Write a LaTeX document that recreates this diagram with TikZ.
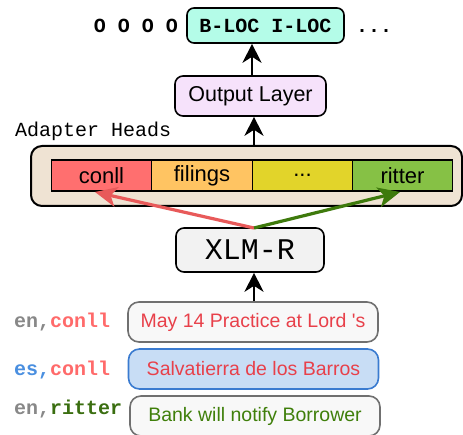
\documentclass[tikz,border=0pt]{standalone}
\usepackage{fontspec}
\setmainfont{Liberation Sans}[Ligatures=TeXOff]
\setmonofont{Liberation Mono}
\usetikzlibrary{arrows.meta,calc}
\definecolor{blocfill}{HTML}{B4FCE8}
\definecolor{outfill}{HTML}{F6E2FB}
\definecolor{adfill}{HTML}{EFE3D3}
\definecolor{cconll}{HTML}{FF6F6F}
\definecolor{cfil}{HTML}{FFC462}
\definecolor{cdots}{HTML}{E2D42A}
\definecolor{critter}{HTML}{86C145}
\definecolor{xlmfill}{HTML}{F2F2F2}
\definecolor{redarr}{HTML}{E85A5A}
\definecolor{greenarr}{HTML}{3E7A0C}
\definecolor{redtxt}{HTML}{E8404A}
\definecolor{greentxt}{HTML}{3F7F0A}
\definecolor{graytxt}{HTML}{888888}
\definecolor{conlltxt}{HTML}{FF6A6A}
\definecolor{bluetxt}{HTML}{4A8FE0}
\definecolor{ritttxt}{HTML}{3A6E10}
\definecolor{sentfill}{HTML}{F8F8F8}
\definecolor{sentdraw}{HTML}{707070}
\definecolor{bluefill}{HTML}{C8DDF5}
\definecolor{bluedraw}{HTML}{3A7BD0}
\tikzset{
  box/.style={draw=black, line width=1.6pt, rounded corners=8pt, inner sep=0pt},
  cell/.style={draw=black, line width=1.4pt, minimum width=100.5pt, minimum height=31pt, inner sep=0pt, font=\fontsize{22}{24}\selectfont},
  sent/.style={draw=sentdraw, fill=sentfill, line width=1.6pt, rounded corners=11pt, minimum width=250pt, minimum height=40pt, inner sep=0pt, font=\fontsize{19.5}{21}\selectfont},
  lab/.style={anchor=west, inner sep=0pt, font=\ttfamily\bfseries\fontsize{20}{22}\selectfont},
  toptxt/.style={inner sep=0pt, font=\ttfamily\bfseries\fontsize{20}{22}\selectfont},
  arr/.style={line width=2pt, -{Stealth[length=19pt,width=19pt,inset=6pt]}},
  carr/.style={line width=3.2pt, -{Stealth[length=22pt,width=20pt,inset=6pt]}},
}
\begin{document}
\begin{tikzpicture}[x=1pt,y=1pt]
\useasboundingbox (0,0) rectangle (463,435);
\begin{scope}
\clip (0,0) rectangle (463,435);
% top output
\node[box, rounded corners=7pt, fill=blocfill, minimum width=157pt, minimum height=35pt] (bloc) at (265.5,409.5) {};
\node[toptxt, anchor=base] (bltxt) at (265.5,402) {B-LOC I-LOC};
\node[toptxt, anchor=base east] (os) at (178,402) {O O O O};
\node[toptxt, anchor=base west] (dots) at (356,402) {...};
% output layer
\node[box, fill=outfill, minimum width=151pt, minimum height=40pt, font=\fontsize{21.5}{23}\selectfont] (out) at (250.5,339) {Output Layer};
% adapter heads
\node[anchor=west, inner sep=0pt, font=\ttfamily\fontsize{20}{22}\selectfont] (adlab) at (15,304) {Adapter Heads};
\node[box, rounded corners=11pt, fill=adfill, line width=2pt, minimum width=431pt, minimum height=60pt] (adapt) at (246.5,259) {};
\node[cell, fill=cconll] (c1) at (101.5,259.5) {conll};
\node[cell, fill=cfil] (c2) at (202,259.5) {filings};
\node[cell, fill=cdots] (c3) at (302.5,259.5) {...};
\node[cell, fill=critter] (c4) at (402.5,259.5) {ritter};
% XLM-R
\node[box, fill=xlmfill, minimum width=148pt, minimum height=44pt, font=\ttfamily\fontsize{30}{32}\selectfont] (xlm) at (250,185) {XLM-R};
% sentences
\node[sent] (s1) at (253,113) {\color{redtxt}May 14 Practice at Lord 's};
\node[sent, draw=bluedraw, fill=bluefill] (s2) at (253.5,66) {\color{redtxt}Salvatierra de los Barros};
\node[sent] (s3) at (255,19) {\color{greentxt}Bank will notify Borrower};
% labels
\node[lab] (l1) at (14,113) {\color{graytxt}en,\color{conlltxt}conll};
\node[lab] (l2) at (14,65) {\color{bluetxt}es,\color{conlltxt}conll};
\node[lab] (l3) at (14,26) {\color{graytxt}en,\color{ritttxt}ritter};
% arrows
\coordinate (xtop) at (254,207);
\coordinate (rend) at (95,243);
\coordinate (gend) at (400,243);
\draw[arr] (out.north -| 252,0) -- (bloc.south -| 252,0);
\draw[arr] (adapt.north -| 254,0) -- (out.south -| 254,0);
\draw[arr] (s1.north -| 254,0) -- (xlm.south -| 254,0);
\draw[carr, draw=redarr, fill=redarr] (xtop) -- (rend);
\draw[carr, draw=greenarr, fill=greenarr] (xtop) -- (gend);
\end{scope}
\end{tikzpicture}
\end{document}
